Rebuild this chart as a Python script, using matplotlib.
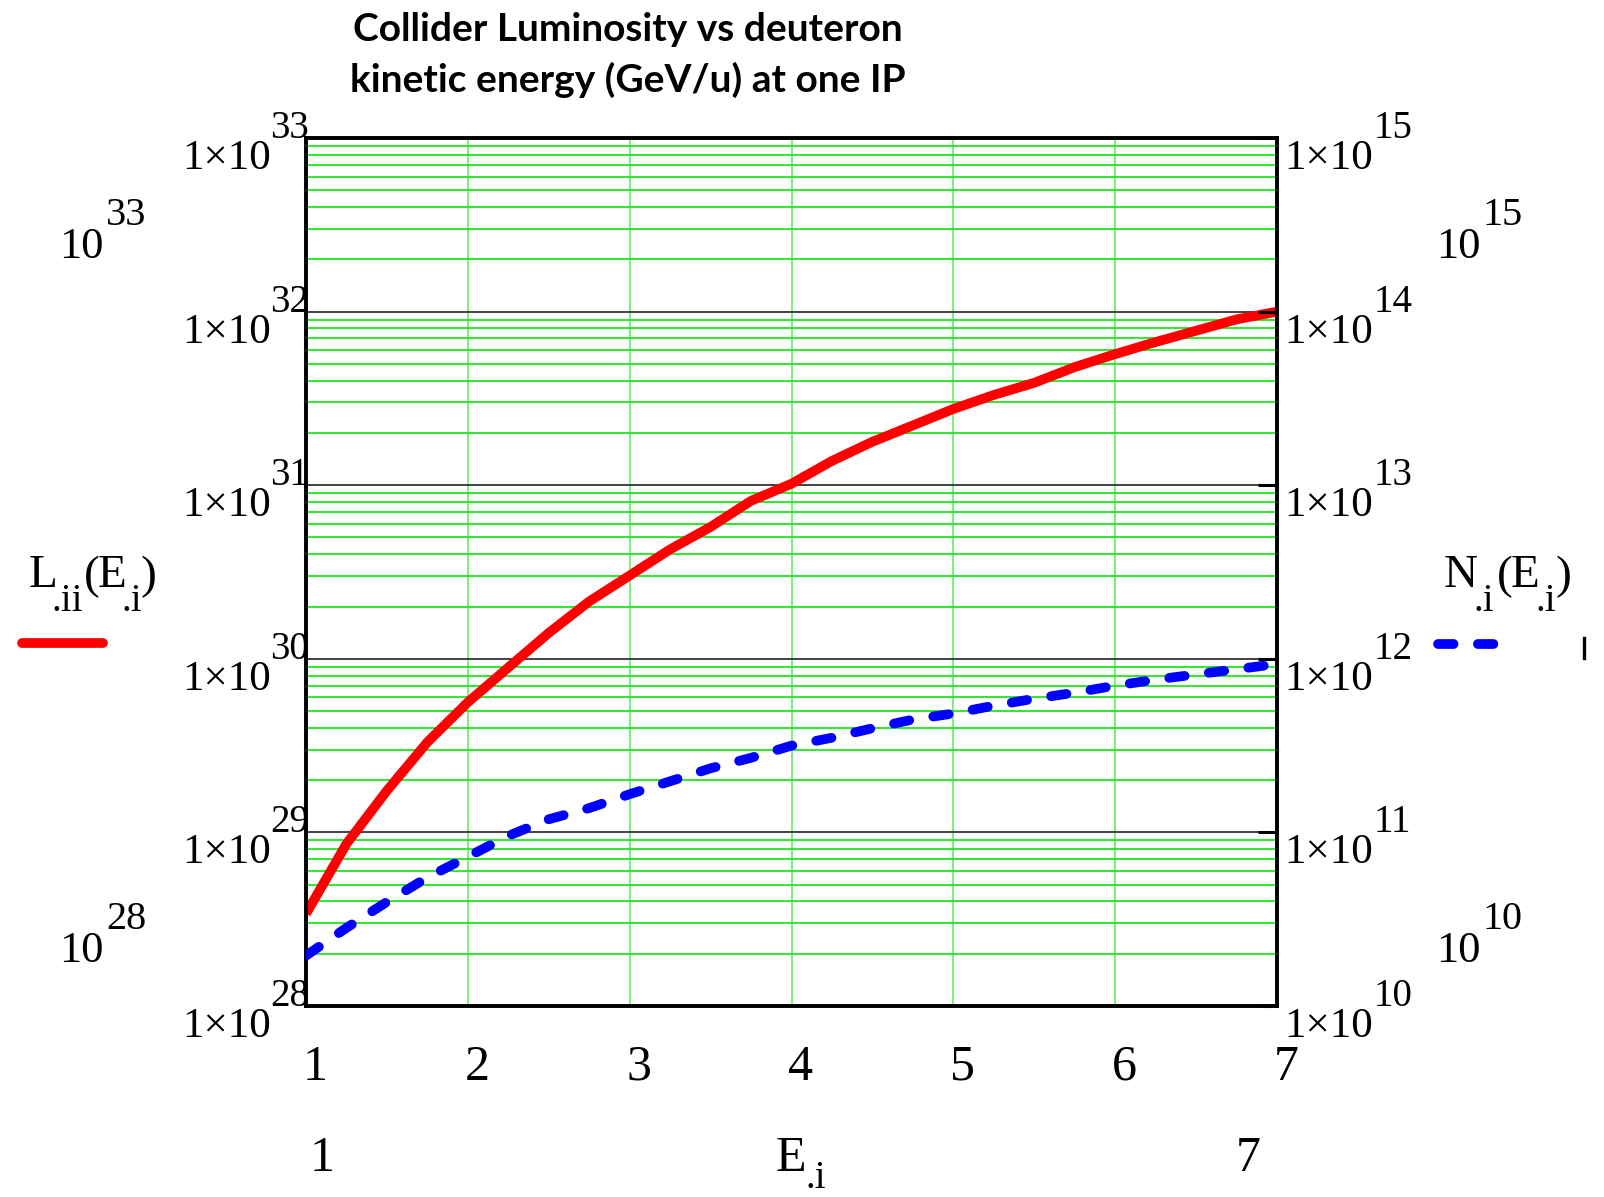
import matplotlib
matplotlib.use("Agg")
import matplotlib.pyplot as plt
from matplotlib.ticker import LogLocator, NullLocator, FixedLocator
from matplotlib.lines import Line2D
from matplotlib.transforms import offset_copy

# ---------------- data ----------------
E_i = [1.00, 1.25, 1.50, 1.75, 2.00, 2.25, 2.50, 2.75, 3.00, 3.25, 3.50, 3.75, 4.00,
       4.25, 4.50, 4.75, 5.00, 5.25, 5.50, 5.75, 6.00, 6.25, 6.50, 6.75, 7.00]
L_ii = [3.40e28, 8.60e28, 1.74e29, 3.31e29, 5.62e29, 8.91e29, 1.41e30, 2.14e30,
        3.02e30, 4.27e30, 5.75e30, 8.13e30, 1.02e31, 1.38e31, 1.78e31, 2.21e31,
        2.75e31, 3.31e31, 3.89e31, 4.79e31, 5.69e31, 6.68e31, 7.76e31, 9.02e31, 1.00e32]
N_i = [1.95e10, 2.82e10, 3.98e10, 5.50e10, 7.24e10, 9.55e10, 1.19e11, 1.38e11,
       1.66e11, 1.97e11, 2.34e11, 2.69e11, 3.16e11, 3.51e11, 3.98e11, 4.47e11,
       4.84e11, 5.37e11, 5.89e11, 6.38e11, 7.00e11, 7.59e11, 8.13e11, 8.71e11, 9.33e11]
x_ticks = [1, 2, 3, 4, 5, 6, 7]
x_tick_labels = ["1", "2", "3", "4", "5", "6", "7"]
L_exponents = [28, 29, 30, 31, 32, 33]
N_exponents = [10, 11, 12, 13, 14, 15]
title_lines = ["Collider Luminosity vs deuteron", "kinetic energy (GeV/u) at one IP"]

# ---------------- figure ----------------
W, H = 1604, 1197
fig = plt.figure(figsize=(W / 100, H / 100), dpi=100)
SERIF = "Liberation Serif"

left, right, top, bottom = 306, 1277, 138, 1006
ax = fig.add_axes([left / W, 1 - bottom / H, (right - left) / W, (bottom - top) / H])
ax.set_yscale("log")
ax.set_xlim(x_ticks[0], x_ticks[-1])
ax.set_ylim(10.0 ** L_exponents[0], 10.0 ** L_exponents[-1])
ax.yaxis.set_major_locator(FixedLocator([10.0 ** e for e in L_exponents]))
ax.yaxis.set_minor_locator(LogLocator(base=10, subs=range(2, 10), numticks=100))
ax.xaxis.set_major_locator(FixedLocator(x_ticks))
ax.xaxis.set_minor_locator(NullLocator())
ax.yaxis.grid(True, which="minor", color="#1ee81e", lw=1.3, zorder=0)
ax.yaxis.grid(True, which="major", color="#333333", lw=1.3, zorder=0)
ax.xaxis.grid(True, which="major", color="#6ef06e", lw=1.3, zorder=0)
ax.set_axisbelow(True)
ax.tick_params(which="both", length=0, labelleft=False, labelbottom=False)
for sp in ax.spines.values():
    sp.set_linewidth(2.6)
    sp.set_color("black")

ax2 = ax.twinx()
ax2.set_yscale("log")
ax2.set_ylim(10.0 ** N_exponents[0], 10.0 ** N_exponents[-1])
ax2.yaxis.set_major_locator(FixedLocator([10.0 ** e for e in N_exponents]))
ax2.yaxis.set_minor_locator(NullLocator())
ax2.tick_params(axis="y", which="major", direction="in", length=14, width=2.2,
                color="black", labelright=False)
for sp in ax2.spines.values():
    sp.set_linewidth(2.6)

# curves
ax.plot(E_i, L_ii, color="#ff0000", lw=7, solid_capstyle="butt",
        solid_joinstyle="round", zorder=5)
ax2.plot(E_i, N_i, color="#0000ff", lw=7, ls=(0, (1.6, 2.5)),
         dash_capstyle="round", dash_joinstyle="round", zorder=5)

# ---------------- tick labels ----------------
BASE_FS, EXP_FS = 31, 28
for e in L_exponents:
    v = 10.0 ** e
    tb = offset_copy(ax.get_yaxis_transform(), fig=fig, x=-35, y=-31, units="dots")
    ax.text(0, v, "1×10", transform=tb, ha="right", va="baseline",
            fontsize=BASE_FS, family=SERIF, clip_on=False)
    te = offset_copy(ax.get_yaxis_transform(), fig=fig, x=-36, y=0, units="dots")
    ax.text(0, v, str(e), transform=te, ha="left", va="baseline",
            fontsize=EXP_FS, family=SERIF, clip_on=False)

for e in N_exponents:
    v = 10.0 ** e
    tb = offset_copy(ax2.get_yaxis_transform(), fig=fig, x=7, y=-31, units="dots")
    base = ax2.text(1, v, "1×10", transform=tb, ha="left", va="baseline",
                    fontsize=BASE_FS, family=SERIF, clip_on=False)
    ax2.annotate(str(e), xy=(1, v), xycoords=(base, ax2.get_yaxis_transform()),
                 xytext=(1, 0), textcoords="offset pixels", ha="left", va="baseline",
                 fontsize=EXP_FS, family=SERIF, annotation_clip=False)

for xv, lab in zip(x_ticks, x_tick_labels):
    tx = offset_copy(ax.get_xaxis_transform(), fig=fig, x=9, y=-74, units="dots")
    ax.text(xv, 0, lab, transform=tx, ha="center", va="baseline",
            fontsize=36, family=SERIF, clip_on=False)


def ftext(x, y, s, size, ha="left", **kw):
    return fig.text(x / W, 1 - y / H, s, fontsize=size, ha=ha, va="baseline",
                    family=SERIF, **kw)


# side decade labels
for (xb, yb, base_s, exp_s) in [(104, 258, "10", str(L_exponents[-1])),
                                (104, 962, "10", str(L_exponents[0])),
                                (1481, 258, "10", str(N_exponents[-1])),
                                (1481, 962, "10", str(N_exponents[0]))]:
    ftext(xb, yb, base_s, 32, ha="right")
    ftext(xb + 2, yb - 33, exp_s, 29)

# legend labels
ftext(29, 587, "L", 34)
ftext(52, 611, ".ii", 28)
ftext(84, 588, "(", 34)
ftext(98, 587, "E", 34)
ftext(122, 611, ".i", 28)
ftext(140, 588, ")", 34)

ftext(1444, 587, "N", 34)
ftext(1474, 611, ".i", 28)
ftext(1497, 588, "(", 34)
ftext(1511, 587, "E", 34)
ftext(1536, 611, ".i", 28)
ftext(1555, 588, ")", 34)

# legend samples
fig.add_artist(Line2D([22 / W, 103 / W], [1 - 643 / H, 1 - 643 / H],
                      transform=fig.transFigure, color="#ff0000", lw=7,
                      solid_capstyle="round"))
fig.add_artist(Line2D([1437.5 / W, 1514 / W], [1 - 644 / H, 1 - 644 / H],
                      transform=fig.transFigure, color="#0000ff", lw=7,
                      ls=(0, (1.6, 2.5)), dash_capstyle="round"))
fig.add_artist(Line2D([1584 / W, 1584 / W], [1 - 638 / H, 1 - 658 / H],
                      transform=fig.transFigure, color="black", lw=2.4))

# bottom labels
ftext(322, 1171, "1", 36, ha="center")
ftext(776, 1171, "E", 36)
ftext(806, 1188, ".i", 28)
ftext(1248, 1171, "7", 36, ha="center")

# title
for txt, yb in zip(title_lines, [41, 92]):
    t = ftext(628, yb, txt, 28, ha="center")
    t.set_family("Lato")
    t.set_fontweight("bold")

fig.savefig("out.png", dpi=100, facecolor="white")
